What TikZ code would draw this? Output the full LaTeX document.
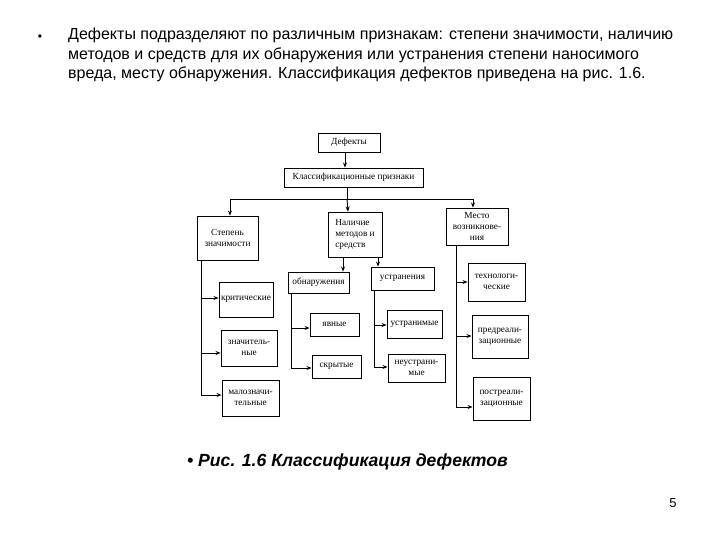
\documentclass[tikz,border=0pt]{standalone}
\usepackage{fontspec}
\setmainfont{Liberation Serif}
\newfontfamily\arialf{Liberation Sans}
\usetikzlibrary{arrows.meta}
\begin{document}
\begin{tikzpicture}[x=1pt,y=-1pt,
  box/.style={draw,line width=0.9pt,align=center,font=\fontsize{9.3}{11}\selectfont,inner sep=1pt},
  ln/.style={line width=0.9pt},
  ar/.style={line width=0.9pt,-{Stealth[length=5pt,width=4pt]}},
  txt/.style={font=\arialf\fontsize{16}{19.5}\selectfont,anchor=north west,align=left,inner sep=0pt}]
\useasboundingbox (0,0) rectangle (720,540);
\node[font=\arialf\fontsize{12}{14}\selectfont,inner sep=0pt] (bul) at (40,38) {•};
\node[txt] (par) at (68,28) {Дефекты подразделяют по различным признакам: степени значимости, наличию\\методов и средств для их обнаружения или устранения степени наносимого\\вреда, месту обнаружения. Классификация дефектов приведена на рис. 1.6.};
\node[box,minimum width=62pt,minimum height=19pt] (d) at (349,142.5) {Дефекты};
\node[box,minimum width=139pt,minimum height=19pt] (k) at (353.5,177.5) {Классификационные признаки};
\node[box,minimum width=61pt,minimum height=44pt] (s) at (227.5,238) {Степень\\значимости};
\node[box,minimum width=54pt,minimum height=45pt,align=left] (n) at (355,234.5) {Наличие\\методов и\\средств};
\node[box,minimum width=62pt,minimum height=37pt] (m) at (477,226.5) {Место\\возникнове-\\ния};
\node[box,minimum width=54pt,minimum height=35pt] (s1) at (246,299.5) {критические};
\node[box,minimum width=56pt,minimum height=36pt] (s2) at (249,348) {значитель-\\ные};
\node[box,minimum width=57pt,minimum height=36pt] (s3) at (250.5,398) {малозначи-\\тельные};
\node[box,minimum width=61pt,minimum height=21pt] (o) at (318.5,282.5) {обнаружения};
\node[box,minimum width=63pt,minimum height=23pt] (u) at (402.5,278.5) {устранения};
\node[box,minimum width=49pt,minimum height=23pt] (o1) at (334.5,324.5) {явные};
\node[box,minimum width=49pt,minimum height=23pt] (o2) at (336.5,366.5) {скрытые};
\node[box,minimum width=55pt,minimum height=28pt] (u1) at (414.5,324) {устранимые};
\node[box,minimum width=57pt,minimum height=28pt] (u2) at (416.5,368) {неустрани-\\мые};
\node[box,minimum width=57pt,minimum height=38pt] (m1) at (496.5,282) {технологи-\\ческие};
\node[box,minimum width=56pt,minimum height=43pt] (m2) at (500,336.5) {предреали-\\зационные};
\node[box,minimum width=57pt,minimum height=43pt] (m3) at (501.5,398.5) {постреали-\\зационные};
\node[font=\arialf\bfseries\itshape\fontsize{17.6}{20}\selectfont,anchor=west,inner sep=0pt] (cap) at (187,462) {• Рис. 1.6 Классификация дефектов};
\node[font=\arialf\fontsize{13}{15}\selectfont,inner sep=0pt] (pg) at (673,503) {5};
% top
\draw[ar] (d.south -| 345,0) -- (k.north -| 345,0);
\coordinate (h) at (347,199);
\draw[ln] (k.south -| 347,0) -- (h);
\draw[ln] (230,199) -- (473,199);
\draw[ar] (230,199) -- (s.north -| 230,0);
\draw[ar] (h) -- (n.north -| 348,0);
\draw[ar] (473,199) -- (m.north -| 473,0);
% stepen
\coordinate (sb) at (201,395);
\draw[ln] (s.south -| 201,0) -- (sb);
\draw[ar] (201,298) -- (s1.west |- 0,298);
\draw[ar] (201,353) -- (s2.west |- 0,353);
\draw[ar] (sb) -- (s3.west |- 0,395);
% nalichie
\draw[ar] (n.south -| 343,0) -- (o.north -| 343,0);
\draw[ar] (n.south -| 378,0) -- (u.north -| 378,0);
\coordinate (ob) at (291,368);
\draw[ln] (o.south -| 291,0) -- (ob);
\draw[ar] (291,328) -- (o1.west |- 0,328);
\draw[ar] (ob) -- (o2.west |- 0,368);
\coordinate (ub) at (374,367);
\draw[ln] (u.south -| 374,0) -- (ub);
\draw[ar] (374,325) -- (u1.west |- 0,325);
\draw[ar] (ub) -- (u2.west |- 0,367);
% mesto
\coordinate (mb) at (456,407);
\draw[ln] (m.south -| 456,0) -- (mb);
\draw[ar] (456,282) -- (m1.west |- 0,282);
\draw[ar] (456,336) -- (m2.west |- 0,336);
\draw[ar] (mb) -- (m3.west |- 0,407);
\end{tikzpicture}
\end{document}
